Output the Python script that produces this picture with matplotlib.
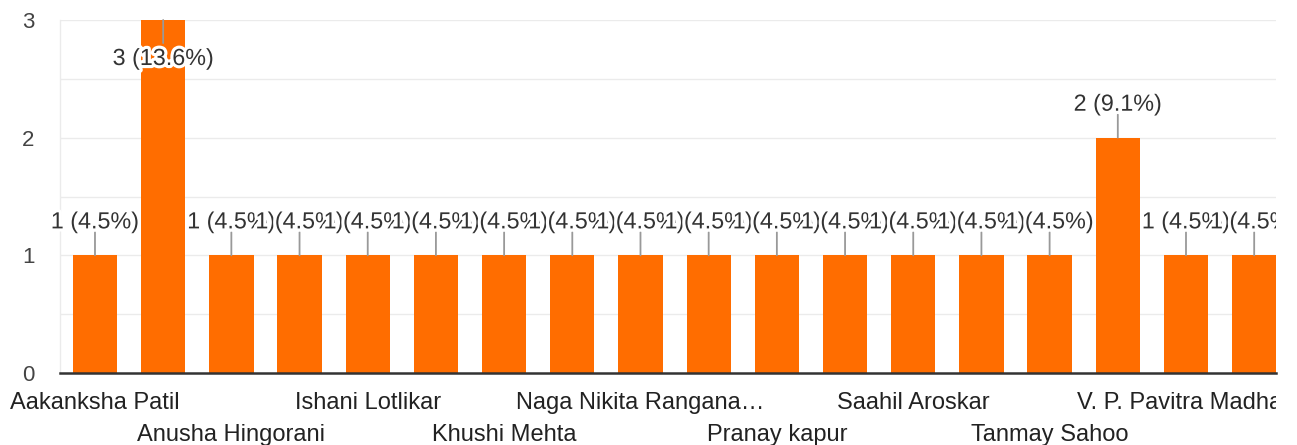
import matplotlib
matplotlib.use("Agg")
import matplotlib.pyplot as plt
from matplotlib import patheffects as pe
from matplotlib.transforms import Bbox, TransformedBbox

# ---- data ----
names = ["Aakanksha Patil", "", "Anusha Hingorani", "", "Ishani Lotlikar", "",
         "Khushi Mehta", "", "Naga Nikita Rangana\u2026", "", "Pranay kapur", "",
         "Saahil Aroskar", "", "Tanmay Sahoo", "", "V. P. Pavitra Madhav", ""]
counts = [1, 3, 1, 1, 1, 1, 1, 1, 1, 1, 1, 1, 1, 1, 1, 2, 1, 1]
percents = [4.5, 13.6, 4.5, 4.5, 4.5, 4.5, 4.5, 4.5, 4.5, 4.5, 4.5, 4.5,
            4.5, 4.5, 4.5, 9.1, 4.5, 4.5]
yticks = [0, 1, 2, 3]
ygrid = [0.5, 1, 1.5, 2, 2.5, 3]

plt.rcParams["font.family"] = ["Liberation Sans", "DejaVu Sans"]

W, H = 1297, 445
fig = plt.figure(figsize=(W / 100, H / 100), dpi=100)
ax = fig.add_axes([60 / W, 72 / H, (1276 - 60) / W, (373 - 20) / H])

BAR = "#ff6d00"
x = list(range(len(counts)))
ax.bar(x, counts, width=0.65, color=BAR, zorder=2)

ax.set_xlim(-0.513, len(counts) - 1 + 0.32)
ax.set_ylim(0, 3)
for g in ygrid:
    ax.axhline(g, color="#ebebeb", lw=1.0, zorder=1)
for s in ["top", "right"]:
    ax.spines[s].set_visible(False)
ax.spines["left"].set_color("#ebebeb")
ax.spines["left"].set_linewidth(1.0)
ax.spines["bottom"].set_color("#333333")
ax.spines["bottom"].set_linewidth(1.8)
ax.spines["bottom"].set_zorder(3)

ax.set_yticks(yticks)
ax.set_yticklabels([str(t) for t in yticks])
ax.tick_params(axis="y", length=0, pad=18.5, labelsize=16, labelcolor="#444444")
ax.set_xticks([])

clip = TransformedBbox(Bbox.from_extents(0, 0, 1276 / W, 1), fig.transFigure)
halo = [pe.withStroke(linewidth=4.5, foreground="white")]
ymax = ax.get_ylim()[1]

for i, (c, p) in enumerate(zip(counts, percents)):
    inside = c >= ymax - 1e-9
    sign = -1 if inside else 1
    ax.annotate("", xy=(i, c), xytext=(0, sign * 16.6), textcoords="offset points",
                arrowprops=dict(arrowstyle="-", color="#999999", lw=1.3,
                                shrinkA=0, shrinkB=0), zorder=4,
                annotation_clip=False)
    dy = -32.4 if inside else 19.4
    t = ax.annotate(f"{c} ({p}%)", xy=(i, c), xytext=(0, dy), textcoords="offset points",
                    ha="center", va="baseline", fontsize=16.8, color="#333333",
                    zorder=5, annotation_clip=False)
    t.set_path_effects(halo)
    t.set_clip_box(clip)
    t.set_clip_on(True)

k = 0
for i, n in enumerate(names):
    if not n:
        continue
    dy = -25.9 if k % 2 == 0 else -49.0
    k += 1
    t = ax.annotate(n, xy=(i, 0), xytext=(0, dy), textcoords="offset points",
                    ha="center", va="baseline", fontsize=17.0, color="#222222",
                    annotation_clip=False)
    t.set_clip_box(clip)
    t.set_clip_on(True)

fig.savefig("out.png", dpi=100, facecolor="white")
